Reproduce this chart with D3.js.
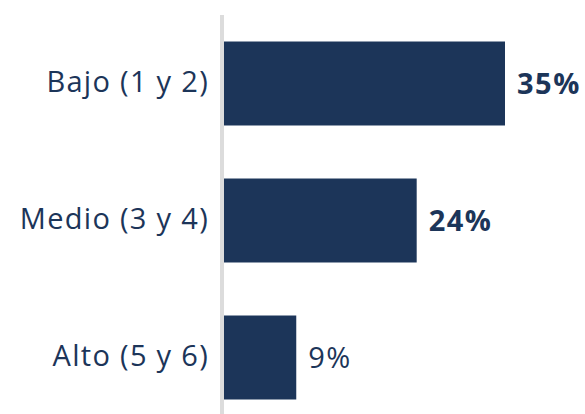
<!DOCTYPE html>
<html>
<head>
<meta charset="utf-8">
<script src="https://cdn.jsdelivr.net/npm/d3@7"></script>
<style>
  body { margin: 0; background: #fff; }
  svg text { font-family: "Open Sans", sans-serif; }
</style>
</head>
<body>
<div id="chart"></div>
<script>
// data
var categories = ["Bajo (1 y 2)", "Medio (3 y 4)", "Alto (5 y 6)"];
var values = [35, 24, 9];

var width = 585,
    height = 414,
    barColor = "#1c3559",
    textColor = "#1c3559";

var svg = d3.select("#chart")
    .append("svg")
    .attr("width", width)
    .attr("height", height);

var x = d3.scaleLinear()
    .domain([0, 35])
    .range([224, 505]);

var y = d3.scaleBand()
    .domain(categories)
    .range([15, 426])
    .paddingInner(0.387)
    .paddingOuter(0.1935);

// vertical baseline
svg.append("rect")
    .attr("x", 220)
    .attr("y", 15)
    .attr("width", 4)
    .attr("height", height - 15)
    .attr("fill", "#dcdcdc");

svg.selectAll("rect.bar")
    .data(values)
    .enter()
    .append("rect")
    .attr("class", "bar")
    .attr("x", x(0))
    .attr("y", (d, i) => y(categories[i]))
    .attr("width", d => x(d) - x(0))
    .attr("height", y.bandwidth())
    .attr("fill", barColor);

// category labels
svg.selectAll("text.cat")
    .data(categories)
    .enter()
    .append("text")
    .attr("class", "cat")
    .attr("x", 209)
    .attr("y", d => y(d) + y.bandwidth() / 2 + 8)
    .attr("text-anchor", "end")
    .attr("font-size", "29px")
    .attr("letter-spacing", "1.3px")
    .attr("fill", textColor)
    .text(d => d);

// value labels
svg.selectAll("text.val")
    .data(values)
    .enter()
    .append("text")
    .attr("class", "val")
    .attr("x", d => x(d) + 12)
    .attr("y", (d, i) => y(categories[i]) + y.bandwidth() / 2 + 10.5)
    .attr("font-size", "29px")
    .attr("letter-spacing", "1.5px")
    .attr("font-weight", d => d >= 20 ? "bold" : "normal")
    .attr("fill", textColor)
    .text(d => d + "%");
</script>
</body>
</html>
